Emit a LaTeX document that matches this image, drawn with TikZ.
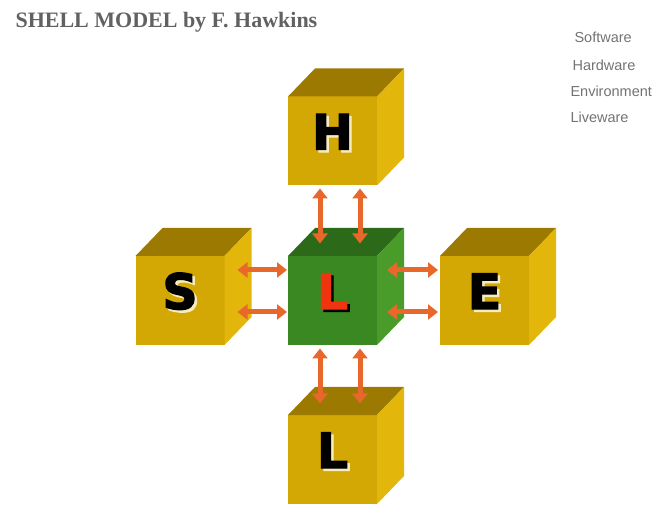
\documentclass[tikz,border=0pt]{standalone}
\usepackage{fontspec}
\setmainfont{Liberation Serif}
\setsansfont{Liberation Sans}
\newfontfamily\letterfont[BoldFeatures={FakeBold=2.5}]{DejaVu Sans}
\usetikzlibrary{arrows.meta,positioning}
\definecolor{goldfront}{RGB}{212,168,4}
\definecolor{goldtop}{RGB}{156,122,2}
\definecolor{goldside}{RGB}{226,182,10}
\definecolor{greenfront}{RGB}{58,136,34}
\definecolor{greentop}{RGB}{44,106,26}
\definecolor{greenside}{RGB}{74,156,42}
\definecolor{arrowc}{RGB}{232,104,44}
\definecolor{letterred}{RGB}{240,52,16}
\definecolor{letterglow}{RGB}{246,236,190}
\newcommand{\shadowed}[2]{\rlap{\kern2.5pt\raisebox{-2.5pt}{\color{#1}#2}}#2}
\tikzset{
  front/.style   = {rectangle, minimum size=89pt, inner sep=0pt, outer sep=0pt},
  gold/.style    = {front, fill=goldfront},
  green/.style   = {front, fill=greenfront},
  letter/.style  = {font=\letterfont\bfseries\fontsize{49}{49}\selectfont,
                    inner sep=0pt, yshift=8pt},
  legend/.style  = {anchor=base west, font=\sffamily\fontsize{14.5}{16}\selectfont,
                    text=black!55},
  link/.style    = {<->, line width=5pt, draw=arrowc}
}

\begin{document}
\begin{tikzpicture}[x=1pt, y=1pt,
  >={Triangle[length=10pt, width=15pt]}]
\useasboundingbox (0,0) rectangle (657,507);

% title and legend
\node[anchor=base west, font=\bfseries\fontsize{22}{24}\selectfont, text=black!62]
  (title) at (12,479) {SHELL MODEL by F. Hawkins};
\node[legend] (sw-l) at (571,464) {Software};
\node[legend] (hw-l) at (569,436) {Hardware};
\node[legend] (ev-l) at (567,410) {Environment};
\node[legend] (lw-l) at (567,384) {Liveware};

% front faces
\node[green] (lc) at (332.5,206.5) {};
\node[gold] (hw) at (332.5,366) {};
\node[gold] (sw) at (180,206.5) {};
\node[gold] (ev) at (484.5,206.5) {};
\node[gold] (lw) at (332.5,47.5) {};

% top and side faces
\foreach \c in {hw,sw,ev,lw} {
  \fill[goldtop] (\c.north west) -- ++(27,28) -- ++(89,0) -- (\c.north east) -- cycle;
  \fill[goldside] (\c.north east) -- ++(27,28) -- ++(0,-89) -- (\c.south east) -- cycle;
}
\fill[greentop] (lc.north west) -- ++(27,28) -- ++(89,0) -- (lc.north east) -- cycle;
\fill[greenside] (lc.north east) -- ++(27,28) -- ++(0,-89) -- (lc.south east) -- cycle;

% letters
\foreach \c/\t in {hw/H,sw/S,ev/E,lw/L}
  \node[letter] (\c-t) at (\c) {\shadowed{letterglow}{\t}};
\node[letter, text=letterred] (lc-t) at (lc) {\shadowed{black}{L}};

% links
\foreach \dx in {-12.5,27.5} {
  \draw[link] ([shift={(\dx,-3)}]hw.south) -- ([shift={(\dx,12.5)}]lc.north);
  \draw[link] ([shift={(\dx,-3.5)}]lc.south) -- ([shift={(\dx,11.5)}]lw.north);
}
\foreach \dy in {30.5,-11.5} {
  \draw[link] ([shift={(13,\dy)}]sw.east) -- ([shift={(-1,\dy)}]lc.west);
  \draw[link] ([shift={(10,\dy)}]lc.east) -- ([shift={(-2,\dy)}]ev.west);
}
\end{tikzpicture}
\end{document}
